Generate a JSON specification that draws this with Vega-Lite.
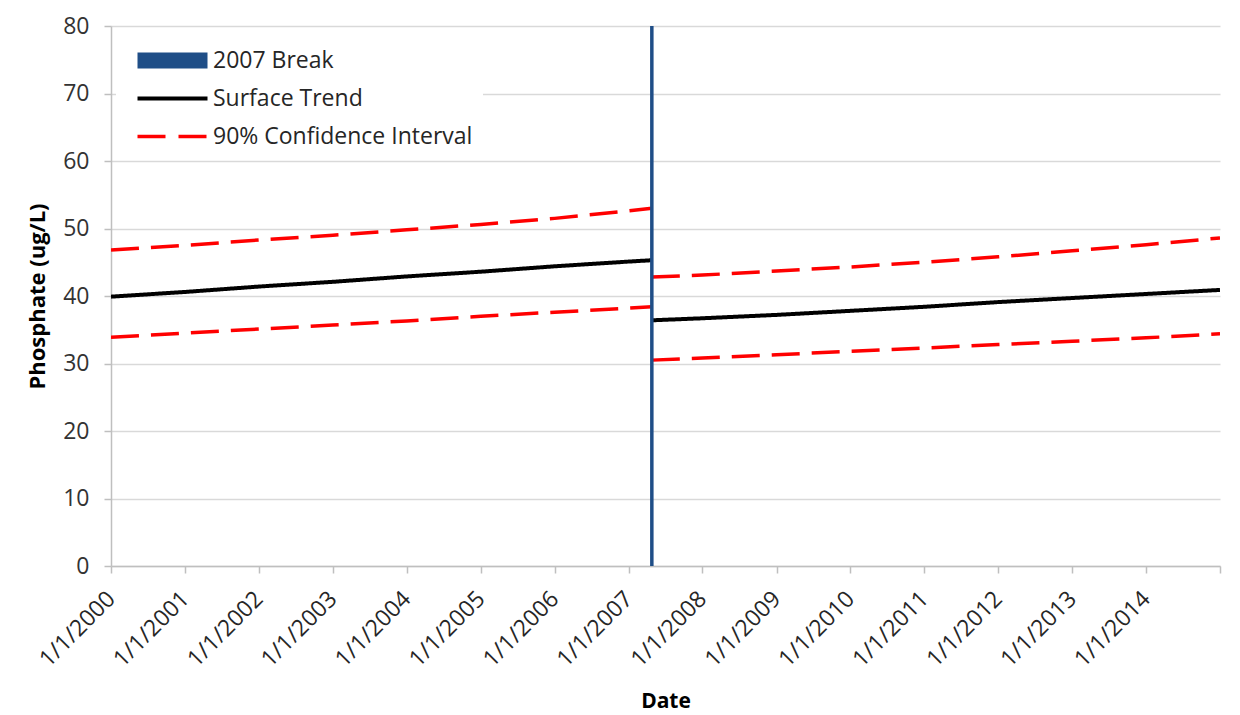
{
  "$schema": "https://vega.github.io/schema/vega-lite/v6.json",
  "width": 1109,
  "height": 540,
  "autosize": {"type": "none"},
  "padding": {"left": 111, "top": 26, "right": 20, "bottom": 149},
  "background": "white",
  "config": {
    "font": "Open Sans",
    "view": {"stroke": null}
  },
  "datasets": {
    "lines": [
      {"date": "2000-01-01", "value": 39.9, "series": "Surface Trend", "seg": "L_trend"},
      {"date": "2001-01-01", "value": 40.6, "series": "Surface Trend", "seg": "L_trend"},
      {"date": "2002-01-01", "value": 41.4, "series": "Surface Trend", "seg": "L_trend"},
      {"date": "2003-01-01", "value": 42.1, "series": "Surface Trend", "seg": "L_trend"},
      {"date": "2004-01-01", "value": 42.9, "series": "Surface Trend", "seg": "L_trend"},
      {"date": "2005-01-01", "value": 43.6, "series": "Surface Trend", "seg": "L_trend"},
      {"date": "2006-01-01", "value": 44.4, "series": "Surface Trend", "seg": "L_trend"},
      {"date": "2007-01-01", "value": 45.1, "series": "Surface Trend", "seg": "L_trend"},
      {"date": "2007-04-26", "value": 45.3, "series": "Surface Trend", "seg": "L_trend"},
      {"date": "2000-01-01", "value": 46.8, "series": "90% Confidence Interval", "seg": "L_upper"},
      {"date": "2001-01-01", "value": 47.5, "series": "90% Confidence Interval", "seg": "L_upper"},
      {"date": "2002-01-01", "value": 48.3, "series": "90% Confidence Interval", "seg": "L_upper"},
      {"date": "2003-01-01", "value": 49.0, "series": "90% Confidence Interval", "seg": "L_upper"},
      {"date": "2004-01-01", "value": 49.8, "series": "90% Confidence Interval", "seg": "L_upper"},
      {"date": "2005-01-01", "value": 50.6, "series": "90% Confidence Interval", "seg": "L_upper"},
      {"date": "2006-01-01", "value": 51.5, "series": "90% Confidence Interval", "seg": "L_upper"},
      {"date": "2007-01-01", "value": 52.6, "series": "90% Confidence Interval", "seg": "L_upper"},
      {"date": "2007-04-26", "value": 53.0, "series": "90% Confidence Interval", "seg": "L_upper"},
      {"date": "2000-01-01", "value": 33.9, "series": "90% Confidence Interval", "seg": "L_lower"},
      {"date": "2001-01-01", "value": 34.5, "series": "90% Confidence Interval", "seg": "L_lower"},
      {"date": "2002-01-01", "value": 35.1, "series": "90% Confidence Interval", "seg": "L_lower"},
      {"date": "2003-01-01", "value": 35.7, "series": "90% Confidence Interval", "seg": "L_lower"},
      {"date": "2004-01-01", "value": 36.3, "series": "90% Confidence Interval", "seg": "L_lower"},
      {"date": "2005-01-01", "value": 37.0, "series": "90% Confidence Interval", "seg": "L_lower"},
      {"date": "2006-01-01", "value": 37.6, "series": "90% Confidence Interval", "seg": "L_lower"},
      {"date": "2007-01-01", "value": 38.2, "series": "90% Confidence Interval", "seg": "L_lower"},
      {"date": "2007-04-26", "value": 38.4, "series": "90% Confidence Interval", "seg": "L_lower"},
      {"date": "2007-04-26", "value": 36.4, "series": "Surface Trend", "seg": "R_trend"},
      {"date": "2008-01-01", "value": 36.7, "series": "Surface Trend", "seg": "R_trend"},
      {"date": "2009-01-01", "value": 37.2, "series": "Surface Trend", "seg": "R_trend"},
      {"date": "2010-01-01", "value": 37.8, "series": "Surface Trend", "seg": "R_trend"},
      {"date": "2011-01-01", "value": 38.4, "series": "Surface Trend", "seg": "R_trend"},
      {"date": "2012-01-01", "value": 39.1, "series": "Surface Trend", "seg": "R_trend"},
      {"date": "2013-01-01", "value": 39.7, "series": "Surface Trend", "seg": "R_trend"},
      {"date": "2014-01-01", "value": 40.3, "series": "Surface Trend", "seg": "R_trend"},
      {"date": "2015-01-01", "value": 40.9, "series": "Surface Trend", "seg": "R_trend"},
      {"date": "2007-04-26", "value": 42.8, "series": "90% Confidence Interval", "seg": "R_upper"},
      {"date": "2008-01-01", "value": 43.1, "series": "90% Confidence Interval", "seg": "R_upper"},
      {"date": "2009-01-01", "value": 43.7, "series": "90% Confidence Interval", "seg": "R_upper"},
      {"date": "2010-01-01", "value": 44.3, "series": "90% Confidence Interval", "seg": "R_upper"},
      {"date": "2011-01-01", "value": 45.0, "series": "90% Confidence Interval", "seg": "R_upper"},
      {"date": "2012-01-01", "value": 45.8, "series": "90% Confidence Interval", "seg": "R_upper"},
      {"date": "2013-01-01", "value": 46.7, "series": "90% Confidence Interval", "seg": "R_upper"},
      {"date": "2014-01-01", "value": 47.6, "series": "90% Confidence Interval", "seg": "R_upper"},
      {"date": "2015-01-01", "value": 48.6, "series": "90% Confidence Interval", "seg": "R_upper"},
      {"date": "2007-04-26", "value": 30.5, "series": "90% Confidence Interval", "seg": "R_lower"},
      {"date": "2008-01-01", "value": 30.8, "series": "90% Confidence Interval", "seg": "R_lower"},
      {"date": "2009-01-01", "value": 31.3, "series": "90% Confidence Interval", "seg": "R_lower"},
      {"date": "2010-01-01", "value": 31.8, "series": "90% Confidence Interval", "seg": "R_lower"},
      {"date": "2011-01-01", "value": 32.3, "series": "90% Confidence Interval", "seg": "R_lower"},
      {"date": "2012-01-01", "value": 32.8, "series": "90% Confidence Interval", "seg": "R_lower"},
      {"date": "2013-01-01", "value": 33.3, "series": "90% Confidence Interval", "seg": "R_lower"},
      {"date": "2014-01-01", "value": 33.8, "series": "90% Confidence Interval", "seg": "R_lower"},
      {"date": "2015-01-01", "value": 34.4, "series": "90% Confidence Interval", "seg": "R_lower"}
    ],
    "brk": [
      {"date": "2007-04-26", "series": "2007 Break"}
    ]
  },
  "layer": [
    {
      "data": {"name": "lines"},
      "mark": {"type": "line", "strokeCap": "butt", "clip": true},
      "encoding": {
        "x": {
          "field": "date", "type": "temporal",
          "scale": {"type": "utc", "domain": [{"year": 2000, "month": 1, "date": 1, "utc": true}, {"year": 2015, "month": 1, "date": 1, "utc": true}]},
          "axis": {
            "title": "Date",
            "titleFontSize": 21, "titleFontWeight": "bold", "titleColor": "#000000", "titlePadding": 19,
            "values": [
              {"year": 2000, "month": 1, "date": 1, "utc": true}, {"year": 2000, "month": 7, "date": 1, "utc": true},
              {"year": 2001, "month": 1, "date": 1, "utc": true}, {"year": 2001, "month": 7, "date": 1, "utc": true},
              {"year": 2002, "month": 1, "date": 1, "utc": true}, {"year": 2002, "month": 7, "date": 1, "utc": true},
              {"year": 2003, "month": 1, "date": 1, "utc": true}, {"year": 2003, "month": 7, "date": 1, "utc": true},
              {"year": 2004, "month": 1, "date": 1, "utc": true}, {"year": 2004, "month": 7, "date": 1, "utc": true},
              {"year": 2005, "month": 1, "date": 1, "utc": true}, {"year": 2005, "month": 7, "date": 1, "utc": true},
              {"year": 2006, "month": 1, "date": 1, "utc": true}, {"year": 2006, "month": 7, "date": 1, "utc": true},
              {"year": 2007, "month": 1, "date": 1, "utc": true}, {"year": 2007, "month": 7, "date": 1, "utc": true},
              {"year": 2008, "month": 1, "date": 1, "utc": true}, {"year": 2008, "month": 7, "date": 1, "utc": true},
              {"year": 2009, "month": 1, "date": 1, "utc": true}, {"year": 2009, "month": 7, "date": 1, "utc": true},
              {"year": 2010, "month": 1, "date": 1, "utc": true}, {"year": 2010, "month": 7, "date": 1, "utc": true},
              {"year": 2011, "month": 1, "date": 1, "utc": true}, {"year": 2011, "month": 7, "date": 1, "utc": true},
              {"year": 2012, "month": 1, "date": 1, "utc": true}, {"year": 2012, "month": 7, "date": 1, "utc": true},
              {"year": 2013, "month": 1, "date": 1, "utc": true}, {"year": 2013, "month": 7, "date": 1, "utc": true},
              {"year": 2014, "month": 1, "date": 1, "utc": true}, {"year": 2014, "month": 7, "date": 1, "utc": true},
              {"year": 2015, "month": 1, "date": 1, "utc": true}
            ],
            "labelExpr": "utcmonth(datum.value) == 0 && utcyear(datum.value) < 2015 ? utcFormat(datum.value, '%-m/%-d/%Y') : ''",
            "labelAngle": -45, "labelAlign": "right", "labelBaseline": "middle",
            "labelFontSize": 23, "labelColor": "#262626", "labelPadding": 22,
            "labelOverlap": false, "labelBound": false, "labelFlush": false,
            "grid": false,
            "domainColor": "#BFBFBF", "domainWidth": 1.5,
            "tickColor": "#BFBFBF", "tickSize": 7, "tickWidth": 1.5
          }
        },
        "y": {
          "field": "value", "type": "quantitative",
          "scale": {"domain": [0, 80], "nice": false, "zero": true},
          "axis": {
            "title": "Phosphate (ug/L)",
            "titleFontSize": 22, "titleFontWeight": "bold", "titleColor": "#000000", "titlePadding": 13,
            "values": [0, 10, 20, 30, 40, 50, 60, 70, 80],
            "labelFontSize": 23, "labelColor": "#333333", "labelPadding": 15,
            "grid": true, "gridColor": "#D9D9D9", "gridWidth": 1.5,
            "domainColor": "#BFBFBF", "domainWidth": 1.5,
            "tickColor": "#BFBFBF", "tickSize": 7, "tickWidth": 1.5
          }
        },
        "detail": {"field": "seg"},
        "color": {
          "field": "series", "type": "nominal",
          "scale": {"domain": ["2007 Break", "Surface Trend", "90% Confidence Interval"], "range": ["#1F4E87", "#000000", "#FF0000"]},
          "legend": {
            "title": null,
            "orient": "none", "legendX": 5, "legendY": 13,
            "fillColor": "white", "padding": 10,
            "symbolType": "M0,0H5.8333", "symbolSize": 576, "symbolStrokeWidth": 4,
            "rowPadding": 14,
            "labelFontSize": 23, "labelColor": "#262626", "labelOffset": 64, "labelLimit": 500,
            "encode": {
              "symbols": {
                "update": {
                  "shape": {"signal": "datum.value == '2007 Break' ? 'M0,-0.6667H5.8333V0.6667H0Z' : 'M0,0H5.8333'"},
                  "fill": {"signal": "datum.value == '2007 Break' ? '#1F4E87' : 'transparent'"},
                  "strokeWidth": {"signal": "datum.value == '2007 Break' ? 0 : (datum.value == 'Surface Trend' ? 4 : 3.5)"},
                  "strokeDash": {"signal": "datum.value == '90% Confidence Interval' ? [28, 13] : [1, 0]"},
                  "strokeCap": {"value": "butt"}
                }
              }
            }
          }
        },
        "strokeWidth": {"condition": {"test": "datum.series == 'Surface Trend'", "value": 4}, "value": 3.5},
        "strokeDash": {"condition": {"test": "datum.series == '90% Confidence Interval'", "value": [28, 12]}, "value": [1, 0]}
      }
    },
    {
      "data": {"name": "brk"},
      "mark": {"type": "rule", "strokeWidth": 3.5},
      "encoding": {
        "x": {"field": "date", "type": "temporal"},
        "color": {"field": "series", "type": "nominal"}
      }
    }
  ]
}
